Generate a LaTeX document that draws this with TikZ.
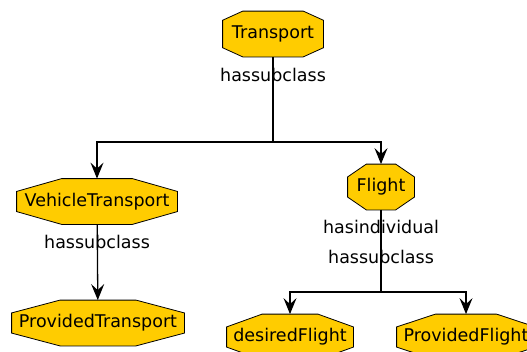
\documentclass[tikz,border=0pt]{standalone}
\usepackage{fontspec}
\setmainfont{DejaVu Sans}
\usetikzlibrary{arrows.meta, positioning}
\definecolor{OntoGold}{HTML}{FFCC00}
\definecolor{OntoBlack}{HTML}{000000}
\definecolor{OntoWhite}{HTML}{ffffff}

% Octagon stretched to the node's box
\newdimen\octxa \newdimen\octxb \newdimen\octxc \newdimen\octxd
\newdimen\octya \newdimen\octyb \newdimen\octyc \newdimen\octyd
\def\octfrac{0.28}
\makeatletter
\pgfdeclareshape{octagonbox}{
    \inheritsavedanchors[from=rectangle]
    \inheritanchorborder[from=rectangle]
    \inheritanchor[from=rectangle]{center}
    \inheritanchor[from=rectangle]{north}
    \inheritanchor[from=rectangle]{south}
    \inheritanchor[from=rectangle]{east}
    \inheritanchor[from=rectangle]{west}
    \backgroundpath{
        \southwest \octxa=\pgf@x \octya=\pgf@y
        \northeast \octxd=\pgf@x \octyd=\pgf@y
        \octxb=\octxd \advance\octxb by -\octxa \octxb=\octfrac\octxb
        \octyb=\octyd \advance\octyb by -\octya \octyb=\octfrac\octyb
        \octxc=\octxd \advance\octxc by -\octxb
        \octyc=\octyd \advance\octyc by -\octyb
        \advance\octxb by \octxa
        \advance\octyb by \octya
        \pgfpathmoveto{\pgfqpoint{\octxb}{\octyd}}
        \pgfpathlineto{\pgfqpoint{\octxc}{\octyd}}
        \pgfpathlineto{\pgfqpoint{\octxd}{\octyc}}
        \pgfpathlineto{\pgfqpoint{\octxd}{\octyb}}
        \pgfpathlineto{\pgfqpoint{\octxc}{\octya}}
        \pgfpathlineto{\pgfqpoint{\octxb}{\octya}}
        \pgfpathlineto{\pgfqpoint{\octxa}{\octyb}}
        \pgfpathlineto{\pgfqpoint{\octxa}{\octyc}}
        \pgfpathclose
    }
}
\makeatother

\tikzset{
    % Class boxes - stretched octagons
    ontoclass/.style={
        octagonbox,
        draw=OntoBlack,
        fill=OntoGold,
        line width=0.8pt,
        minimum height=45pt,
        inner xsep=4pt,
        inner ysep=2pt,
        font=\fontsize{17.5}{20}\selectfont
    },
    chamfer/.code={\def\octfrac{#1}},
    % Relation labels on the links
    relation/.style={
        inner sep=1pt,
        font=\fontsize{17.5}{20}\selectfont
    },
    % Link styles
    link/.style={
        line width=1.3pt,
        draw=OntoBlack
    },
    arrow/.style={
        -{Stealth[length=16pt, width=13pt, inset=6pt]},
        line width=1.3pt,
        draw=OntoBlack
    }
}

\begin{document}
\begin{tikzpicture}[x=1pt, y=-1pt]
    \useasboundingbox[fill=OntoWhite] (0,0) rectangle (527,351);

    % Classes
    \node[ontoclass, chamfer=0.2, minimum width=100pt] (transport) at (273,34) {Transport};
    \node[ontoclass, minimum width=160pt] (vehicle) at (97,201.5) {VehicleTransport};
    \node[ontoclass, minimum width=172pt] (provided) at (98,323) {ProvidedTransport};
    \node[ontoclass, minimum width=66pt] (flight) at (381,187) {Flight};
    \node[ontoclass, minimum width=126pt] (desired) at (290,337) {desiredFlight};
    \node[ontoclass, minimum width=138pt] (providedflight) at (466,337) {ProvidedFlight};

    % Split points of the links
    \coordinate (tsplit) at (273,142);
    \coordinate (fsplit) at (381,292);

    % Transport to its subclasses
    \draw[link] (transport) -- (tsplit);
    \draw[arrow] (tsplit) -| (vehicle);
    \draw[arrow] (tsplit) -| (flight);
    \node[relation] (tlabel) at (273,75) {hassubclass};

    % VehicleTransport to ProvidedTransport
    \draw[arrow] (vehicle) -- (provided);
    \node[relation] (vlabel) at (97,242) {hassubclass};

    % Flight to its individuals and subclasses
    \draw[link] (flight) -- (fsplit);
    \draw[arrow] (fsplit) -| (desired);
    \draw[arrow] (fsplit) -| (providedflight);
    \node[relation] (flabel1) at (381,227) {hasindividual};
    \node[relation] (flabel2) at (381,257) {hassubclass};
\end{tikzpicture}
\end{document}
